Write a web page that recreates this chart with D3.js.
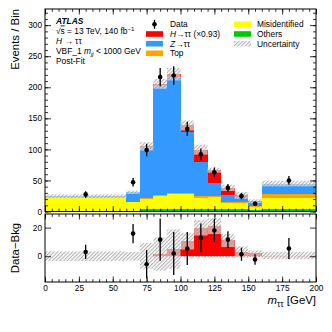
<!DOCTYPE html>
<html>
<head>
<meta charset="utf-8">
<script src="https://cdn.jsdelivr.net/npm/d3@7"></script>
<style>
  body { margin: 0; background: #fff; }
  svg { font-family: "Liberation Sans", Arial, sans-serif; }
</style>
</head>
<body>
<div class="chart"></div>
<script>
// bin edges in m_tautau [GeV]
const binEdges = [0, 60, 70, 80, 90, 100, 110, 120, 130, 140, 150, 160, 200];

// stacked post-fit predictions (events / bin)
const others  = [0.5, 1, 3.5, 3.5, 3.5, 3.5, 3.5, 3.5, 3.5, 3.5, 3, 4];
const misid   = [22, 14, 16, 21, 25, 25, 18.5, 19.5, 10, 10, 4.5, 18];
const topBkg  = [0.5, 0.5, 1.5, 1.5, 1.5, 1.5, 2.5, 1.5, 1.5, 1, 1, 6.5];
const ztt     = [1.5, 15.5, 83.5, 178, 186, 98, 55, 21, 12, 8.5, 6, 16];
const signal  = [0, 0, 0.3, 1.5, 5, 10.5, 20, 21, 11, 3, 2, 0.5];
const uncMain = [3, 2.7, 6.8, 8, 10, 8, 8, 4, 5, 5.5, 3, 4.5];

// data
const data    = [27.5, 47, 99, 216.5, 219, 133, 92, 63, 38, 24.7, 12.4, 50];
const dataErr = [5.2, 6.9, 10, 14.7, 14.8, 11.5, 9.6, 7.9, 6.2, 5, 3.5, 7.1];

// lower panel: data - bkg
const diff     = [3, 15.8, -5.6, 11.6, 1.9, 5.4, 12.8, 18, 11.6, 1.4, -2.3, 5.4];
const diffErr  = [5, 6.7, 10, 14.7, 15, 11.6, 10, 8, 5.8, 4.6, 3.7, 7.3];
const uncRatio = [3.4, 3, 9, 11.6, 13.8, 5.8, 5.5, 5.5, 4.6, 4, 2.1, 2.6];

// ticks
const xMajor = [0, 25, 50, 75, 100, 125, 150, 175, 200];
const yMainMajor = [0, 50, 100, 150, 200, 250, 300];
const yRatioMajor = [0, 20];

const colors = {others: '#00c800', misid: '#ffff00', topBkg: '#ffa500', ztt: '#3399ff', signal: '#ff0000'};

const svg = d3.select('.chart')
  .append('svg')
  .attr('width', 332)
  .attr('height', 332);

const x = d3.scaleLinear().domain([0, 200]).range([45, 316]);
const yMain = d3.scaleLinear().domain([0, 326]).range([211.5, 9]);
const yRatio = d3.scaleLinear().domain([-18, 29.5]).range([282, 214]);

// hatch pattern for uncertainty
const defs = svg.append('defs');
const pat = defs.append('pattern')
  .attr('id', 'hatch')
  .attr('width', 2.6).attr('height', 2.6)
  .attr('patternUnits', 'userSpaceOnUse')
  .attr('patternTransform', 'rotate(45)');
pat.append('rect').attr('width', 2.6).attr('height', 2.6).attr('fill', 'white').attr('opacity', 0.6);
pat.append('line').attr('x1', 0.6).attr('y1', 0).attr('x2', 0.6).attr('y2', 2.6)
  .attr('stroke', '#a0a0a0').attr('stroke-width', 0.9);

const bins = binEdges.slice(0, -1).map((lo, i) => ({lo: lo, hi: binEdges[i + 1], i: i}));
const series = {others, misid, topBkg, ztt, signal};
const keys = ['others', 'misid', 'topBkg', 'ztt', 'signal'];
const rows = bins.map(b => {
  const r = {lo: b.lo, hi: b.hi, i: b.i};
  keys.forEach(k => r[k] = series[k][b.i]);
  return r;
});
const stacked = d3.stack().keys(keys)(rows);

// ---- main panel ----
svg.append('g')
  .selectAll('g')
  .data(stacked)
  .join('g')
  .attr('fill', d => colors[d.key])
  .selectAll('rect')
  .data(d => d)
  .join('rect')
  .attr('shape-rendering', 'crispEdges')
  .attr('x', d => x(d.data.lo))
  .attr('width', d => x(d.data.hi) - x(d.data.lo))
  .attr('y', d => yMain(d[1]))
  .attr('height', d => yMain(d[0]) - yMain(d[1]));

const totals = stacked[stacked.length - 1].map(d => d[1]);

svg.append('g')
  .selectAll('rect')
  .data(bins)
  .join('rect')
  .attr('fill', 'url(#hatch)')
  .attr('x', d => x(d.lo))
  .attr('width', d => x(d.hi) - x(d.lo))
  .attr('y', d => yMain(totals[d.i] + uncMain[d.i]))
  .attr('height', d => yMain(totals[d.i] - uncMain[d.i]) - yMain(totals[d.i] + uncMain[d.i]));

const pts = svg.append('g');
pts.selectAll('line')
  .data(bins)
  .join('line')
  .attr('x1', d => x((d.lo + d.hi) / 2)).attr('x2', d => x((d.lo + d.hi) / 2))
  .attr('y1', d => yMain(data[d.i] - dataErr[d.i]))
  .attr('y2', d => yMain(data[d.i] + dataErr[d.i]))
  .attr('stroke', 'black').attr('stroke-width', 1.3);
pts.selectAll('circle')
  .data(bins)
  .join('circle')
  .attr('cx', d => x((d.lo + d.hi) / 2))
  .attr('cy', d => yMain(data[d.i]))
  .attr('r', 2.3)
  .attr('fill', 'black');

// ---- ratio panel ----
svg.append('g')
  .selectAll('rect')
  .data(bins)
  .join('rect')
  .attr('fill', colors.signal)
  .attr('shape-rendering', 'crispEdges')
  .attr('x', d => x(d.lo))
  .attr('width', d => x(d.hi) - x(d.lo))
  .attr('y', d => yRatio(signal[d.i]))
  .attr('height', d => yRatio(0) - yRatio(signal[d.i]));

svg.append('line')
  .attr('x1', x(80)).attr('x2', x(200))
  .attr('y1', yRatio(0)).attr('y2', yRatio(0))
  .attr('stroke', colors.signal).attr('stroke-width', 0.8)
  .attr('stroke-dasharray', '1.5,1.5');

svg.append('g')
  .selectAll('rect')
  .data(bins)
  .join('rect')
  .attr('fill', 'url(#hatch)')
  .attr('x', d => x(d.lo))
  .attr('width', d => x(d.hi) - x(d.lo))
  .attr('y', d => yRatio(signal[d.i] + uncRatio[d.i]))
  .attr('height', d => yRatio(signal[d.i] - uncRatio[d.i]) - yRatio(signal[d.i] + uncRatio[d.i]));

const rpts = svg.append('g');
rpts.selectAll('line')
  .data(bins)
  .join('line')
  .attr('x1', d => x((d.lo + d.hi) / 2)).attr('x2', d => x((d.lo + d.hi) / 2))
  .attr('y1', d => yRatio(diff[d.i] - diffErr[d.i]))
  .attr('y2', d => yRatio(diff[d.i] + diffErr[d.i]))
  .attr('stroke', 'black').attr('stroke-width', 1.3);
rpts.selectAll('circle')
  .data(bins)
  .join('circle')
  .attr('cx', d => x((d.lo + d.hi) / 2))
  .attr('cy', d => yRatio(diff[d.i]))
  .attr('r', 2.3)
  .attr('fill', 'black');

// ---- axes / frames ----
function tickAxis(axisFn, scale, values, size, labels) {
  return axisFn(scale)
    .tickValues(values)
    .tickSize(size)
    .tickPadding(3)
    .tickFormat(labels ? d3.format('d') : '');
}

function frame(yScale, yTicks, yMinor, showXLabels) {
  const [yb, yt] = yScale.range();
  const g = svg.append('g').attr('class', 'axis');
  const xMinor = d3.range(0, 201, 5);

  g.append('g').attr('transform', `translate(0,${yb})`)
    .call(tickAxis(d3.axisBottom, x, xMinor, -2.8, false));
  g.append('g').attr('transform', `translate(0,${yb})`)
    .call(tickAxis(d3.axisBottom, x, xMajor, -5.5, showXLabels).tickPadding(3.5));
  g.append('g').attr('transform', `translate(0,${yt})`)
    .call(tickAxis(d3.axisTop, x, xMinor, -2.8, false));
  g.append('g').attr('transform', `translate(0,${yt})`)
    .call(tickAxis(d3.axisTop, x, xMajor, -5.5, false));

  if (yMinor.length) {
    g.append('g').attr('transform', `translate(${x(0)},0)`)
      .call(tickAxis(d3.axisLeft, yScale, yMinor, -3, false));
    g.append('g').attr('transform', `translate(${x(200)},0)`)
      .call(tickAxis(d3.axisRight, yScale, yMinor, -3, false));
  }
  g.append('g').attr('transform', `translate(${x(0)},0)`)
    .call(tickAxis(d3.axisLeft, yScale, yTicks, -6, true));
  g.append('g').attr('transform', `translate(${x(200)},0)`)
    .call(tickAxis(d3.axisRight, yScale, yTicks, -6, false));

  g.selectAll('.domain').remove();
  g.selectAll('line').attr('stroke', '#000').attr('stroke-width', 0.8);
  g.selectAll('text').attr('font-size', 8.3).attr('fill', '#000')
    .attr('font-family', '"Liberation Sans", Arial, sans-serif');

  g.append('rect')
    .attr('x', x(0)).attr('y', yt)
    .attr('width', x(200) - x(0)).attr('height', yb - yt)
    .attr('fill', 'none').attr('stroke', '#000').attr('stroke-width', 1);
}

frame(yMain, yMainMajor, d3.range(0, 326, 10), false);
frame(yRatio, yRatioMajor, [], true);

// axis titles
svg.append('text')
  .attr('transform', 'translate(18.5,9) rotate(-90)')
  .attr('text-anchor', 'end')
  .attr('font-size', 11.4)
  .text('Events / Bin');

svg.append('text')
  .attr('transform', `translate(18.5,${(yRatio.range()[0] + yRatio.range()[1]) / 2}) rotate(-90)`)
  .attr('text-anchor', 'middle')
  .attr('font-size', 11.4)
  .text('Data\u2212Bkg');

const xt = svg.append('text')
  .attr('x', 316).attr('y', 304)
  .attr('text-anchor', 'end')
  .attr('font-size', 11.4);
xt.append('tspan').attr('font-style', 'italic').text('m');
xt.append('tspan').attr('font-size', 8.5).attr('dy', 2.5).text('\u03c4\u03c4');
xt.append('tspan').attr('dy', -2.5).text(' [GeV]');

// ATLAS labels
const lab = svg.append('g').attr('font-size', 8.4);
lab.append('text').attr('x', 56).attr('y', 23.5)
  .attr('font-weight', 'bold').attr('font-style', 'italic').text('ATLAS');
const l2 = lab.append('text').attr('x', 56).attr('y', 33.5);
l2.append('tspan').text('\u221a');
l2.append('tspan').attr('text-decoration', 'overline').text('s');
l2.append('tspan').text(' = 13 TeV, 140 fb');
l2.append('tspan').attr('font-size', 6).attr('dy', -3).text('\u22121');
const l3 = lab.append('text').attr('x', 56).attr('y', 43.5);
l3.append('tspan').attr('font-style', 'italic').text('H');
l3.append('tspan').text(' \u2192 \u03c4\u03c4');
const l4 = lab.append('text').attr('x', 56).attr('y', 53.5);
l4.append('tspan').text('VBF_1 ');
l4.append('tspan').attr('font-style', 'italic').text('m');
l4.append('tspan').attr('font-style', 'italic').attr('font-size', 6).attr('dy', 2).text('jj');
l4.append('tspan').attr('dy', -2).text(' < 1000 GeV');
lab.append('text').attr('x', 56).attr('y', 63.5).text('Post-Fit');

// legend
const legRows = [24.3, 34, 43.7, 53.3];
const leg = svg.append('g').attr('font-size', 8.4);
// data entry
leg.append('line').attr('x1', 154.5).attr('x2', 154.5)
  .attr('y1', legRows[0] - 4.5).attr('y2', legRows[0] + 4.5)
  .attr('stroke', 'black').attr('stroke-width', 1.3);
leg.append('circle').attr('cx', 154.5).attr('cy', legRows[0]).attr('r', 2.3).attr('fill', 'black');
leg.append('text').attr('x', 170).attr('y', legRows[0] + 3).text('Data');

const legBoxes = [
  {x: 146, row: 1, fill: colors.signal},
  {x: 146, row: 2, fill: colors.ztt},
  {x: 146, row: 3, fill: colors.topBkg},
  {x: 234, row: 0, fill: colors.misid},
  {x: 234, row: 1, fill: colors.others},
  {x: 234, row: 2, fill: 'url(#hatch)'}
];
leg.selectAll('rect')
  .data(legBoxes)
  .join('rect')
  .attr('x', d => d.x).attr('y', d => legRows[d.row] - 2.8)
  .attr('width', 17).attr('height', 5.6)
  .attr('fill', d => d.fill);

const t1 = leg.append('text').attr('x', 170).attr('y', legRows[1] + 3);
t1.append('tspan').attr('font-style', 'italic').text('H');
t1.append('tspan').text('\u2192\u03c4\u03c4 (\u00d70.93)');
const t2 = leg.append('text').attr('x', 170).attr('y', legRows[2] + 3);
t2.append('tspan').attr('font-style', 'italic').text('Z');
t2.append('tspan').text('\u2192\u03c4\u03c4');
leg.append('text').attr('x', 170).attr('y', legRows[3] + 3).text('Top');
leg.append('text').attr('x', 257).attr('y', legRows[0] + 3).text('Misidentified');
leg.append('text').attr('x', 257).attr('y', legRows[1] + 3).text('Others');
leg.append('text').attr('x', 257).attr('y', legRows[2] + 3).text('Uncertainty');
</script>
</body>
</html>
